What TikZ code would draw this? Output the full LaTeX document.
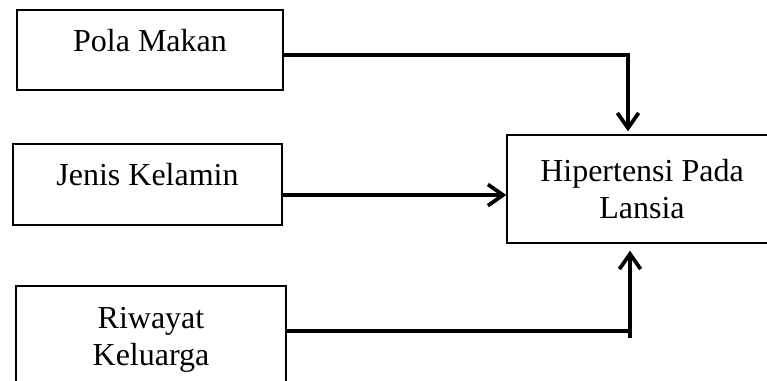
\documentclass[tikz,border=0pt]{standalone}
\usepackage{fontspec}
\setmainfont{Liberation Serif}
\usepackage{tikz}
\usetikzlibrary{arrows.meta,positioning,calc}
\tikzset{
  box/.style={rectangle,draw=black,line width=1.5pt,fill=white,align=center,
              inner sep=0pt,font=\fontsize{24}{28}\selectfont,
              minimum width=202pt,minimum height=61pt},
  sbox/.style={box,text height=14pt,text depth=12pt},
  tbox/.style={box,minimum height=81pt},
  ln/.style={draw=black,line width=2.8pt},
  fl/.style={ln,-{Straight Barb[length=4mm,width=5.6mm]}},
}

\begin{document}
\begin{tikzpicture}[x=0.75pt,y=-0.75pt]
  \useasboundingbox (0,0) rectangle (767,380);
  \clip (0,0) rectangle (767,380);
  \node[sbox,minimum width=199.5pt,minimum height=60pt] (pola) at (150,50) {Pola Makan};
  \node[sbox] (jenis) at (147.5,184.5) {Jenis Kelamin};
  \node[tbox] (hip) at (642,189) {Hipertensi Pada\\Lansia};
  \node[tbox] (riw) at (151,340) {Riwayat\\Keluarga};
  \coordinate (kaki) at (630,338);
  % arrows into the outcome box
  \draw[fl,shorten >=2pt] ([yshift=-3.75pt]pola.east) -| ([xshift=-10.5pt]hip.north);
  \draw[fl] ([yshift=-7.9pt]jenis.east) -- ([yshift=-7.9pt]jenis.east -| hip.west);
  \draw[ln] ([yshift=6.75pt]riw.east) -- ([yshift=6.75pt]riw.east -| kaki);
  \draw[fl,shorten >=5pt] (kaki) -- (kaki |- hip.south);
\end{tikzpicture}
\end{document}
